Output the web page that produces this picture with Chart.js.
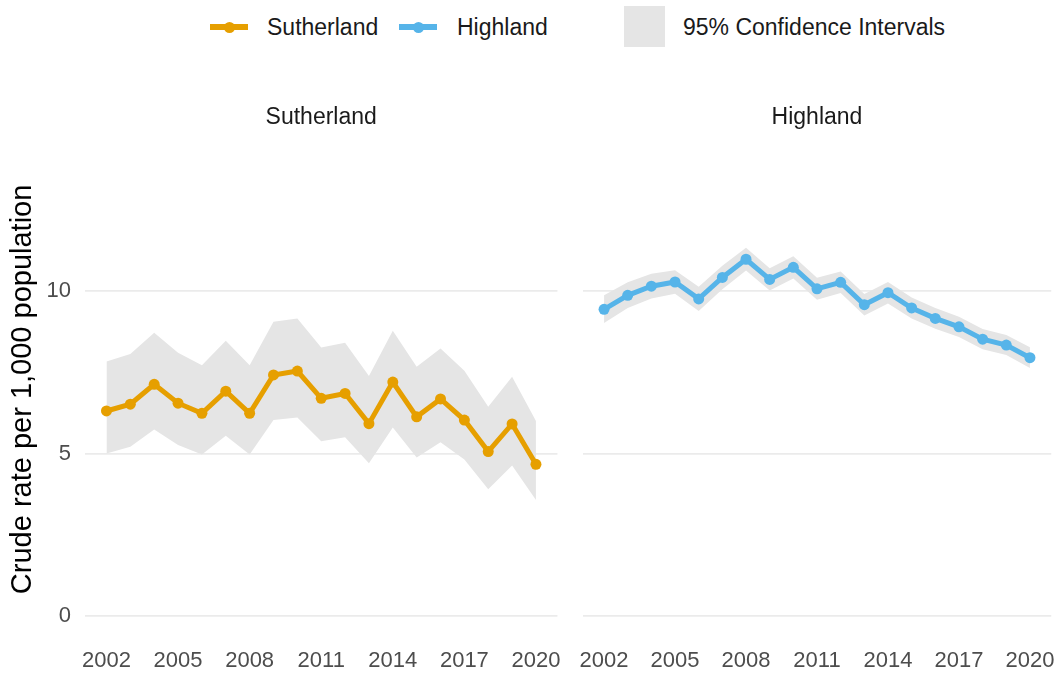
<!DOCTYPE html>
<html><head><meta charset="utf-8">
<script src="https://cdn.jsdelivr.net/npm/chart.js@4.4.1/dist/chart.umd.min.js"></script>
<style>
html,body{margin:0;padding:0;background:#fff;width:1064px;height:673px;overflow:hidden;font-family:"Liberation Sans",Arial,sans-serif;}
#wrap{position:relative;width:1064px;height:673px;}
canvas{position:absolute;top:0;}
#c1{left:0;}
#c2{left:570px;}
.lg{position:absolute;font-size:23px;color:#1a1a1a;line-height:30px;top:12px;white-space:nowrap;}
.key{position:absolute;height:6px;top:24px;width:38px;}
.dot{position:absolute;width:11px;height:11px;border-radius:50%;top:-2.5px;left:13.5px;}
.box{position:absolute;left:624px;top:6px;width:41px;height:41px;background:#e5e5e5;}
</style></head>
<body>
<div id="wrap">
  <div class="key" style="left:210px;background:#E69F00"><div class="dot" style="background:#E69F00"></div></div>
  <div class="lg" style="left:267px">Sutherland</div>
  <div class="key" style="left:399px;background:#56B4E9"><div class="dot" style="background:#56B4E9"></div></div>
  <div class="lg" style="left:457px">Highland</div>
  <div class="box"></div>
  <div class="lg" style="left:683px">95% Confidence Intervals</div>
  <canvas id="c1" width="570" height="673"></canvas>
  <canvas id="c2" width="494" height="673"></canvas>
</div>
<script>
const years = [2002,2003,2004,2005,2006,2007,2008,2009,2010,2011,2012,2013,2014,2015,2016,2017,2018,2019,2020];
const sutherlandRate  = [6.31,6.52,7.13,6.55,6.24,6.92,6.24,7.42,7.54,6.70,6.85,5.92,7.20,6.13,6.68,6.03,5.06,5.91,4.67];
const sutherlandUpper = [7.83,8.06,8.72,8.10,7.72,8.47,7.72,9.06,9.16,8.26,8.41,7.39,8.78,7.67,8.23,7.55,6.44,7.36,6.00];
const sutherlandLower = [5.00,5.21,5.74,5.26,4.97,5.55,4.97,6.03,6.11,5.38,5.50,4.70,5.80,4.88,5.35,4.82,3.90,4.63,3.57];
const highlandRate  = [9.44,9.87,10.15,10.28,9.76,10.42,10.98,10.36,10.73,10.07,10.27,9.58,9.95,9.48,9.16,8.90,8.52,8.34,7.95];
const highlandUpper = [9.87,10.27,10.53,10.64,10.13,10.78,11.33,10.70,11.07,10.41,10.60,9.91,10.28,9.80,9.48,9.21,8.83,8.65,8.27];
const highlandLower = [9.02,9.48,9.77,9.92,9.39,10.06,10.63,10.02,10.39,9.73,9.94,9.25,9.62,9.16,8.84,8.59,8.21,8.03,7.63];
const xTicks = [2002,2005,2008,2011,2014,2017,2020];
const yTicks = [0,5,10];
const panelTitles = ['Sutherland','Highland'];
const yTitle = 'Crude rate per 1,000 population';

const FONT = '"Liberation Sans", Arial, sans-serif';
const pts = arr => arr.map((v,i)=>({x:years[i], y:v}));

function makeChart(id, title, rate, upper, lower, color, isLeft){
  return new Chart(document.getElementById(id), {
    type:'line',
    data:{datasets:[
      {data:pts(rate), borderColor:color, borderWidth:5, pointRadius:5.5, pointBackgroundColor:color, pointBorderWidth:0, fill:false, tension:0, clip:false},
      {data:pts(upper), borderWidth:0, pointRadius:0, fill:'+1', backgroundColor:'#e5e5e5', tension:0},
      {data:pts(lower), borderWidth:0, pointRadius:0, fill:false, tension:0}
    ]},
    options:{
      responsive:false, animation:false, devicePixelRatio:1,
      layout:{padding:{left:isLeft?0:8, right:7, top:0, bottom:0}},
      plugins:{
        legend:{display:false}, tooltip:{enabled:false},
        title:{display:true, text:title, fullSize:false, color:'#1a1a1a', font:{family:FONT, size:23, weight:'normal'}, padding:{top:104.2, bottom:8.2}}
      },
      scales:{
        x:{type:'linear', min:2001.1, max:2020.9,
          grid:{display:false, drawTicks:false}, border:{display:false},
          afterBuildTicks:s=>{s.ticks = xTicks.map(v=>({value:v}));},
          afterFit:s=>{s.height = 34.25;},
          ticks:{padding:9, color:'#4d4d4d', font:{family:FONT, size:22}, maxRotation:0, autoSkip:false, callback:v=>String(v)}
        },
        y:{type:'linear', min:-0.7, max:14.65,
          grid:{color:'#ebebeb', lineWidth:1.8, drawTicks:false}, border:{display:false},
          afterBuildTicks:s=>{s.ticks = yTicks.map(v=>({value:v}));},
          afterFit:s=>{s.width = isLeft?85:0;},
          ticks:{display:isLeft, padding:14, color:'#4d4d4d', font:{family:FONT, size:22}, callback:v=>String(v)},
          title:{display:isLeft, text:yTitle, color:'#000', font:{family:FONT, size:29}, padding:{top:5.6, bottom:0}}
        }
      }
    }
  });
}
makeChart('c1', panelTitles[0], sutherlandRate, sutherlandUpper, sutherlandLower, '#E69F00', true);
makeChart('c2', panelTitles[1], highlandRate, highlandUpper, highlandLower, '#56B4E9', false);
</script>
</body></html>
